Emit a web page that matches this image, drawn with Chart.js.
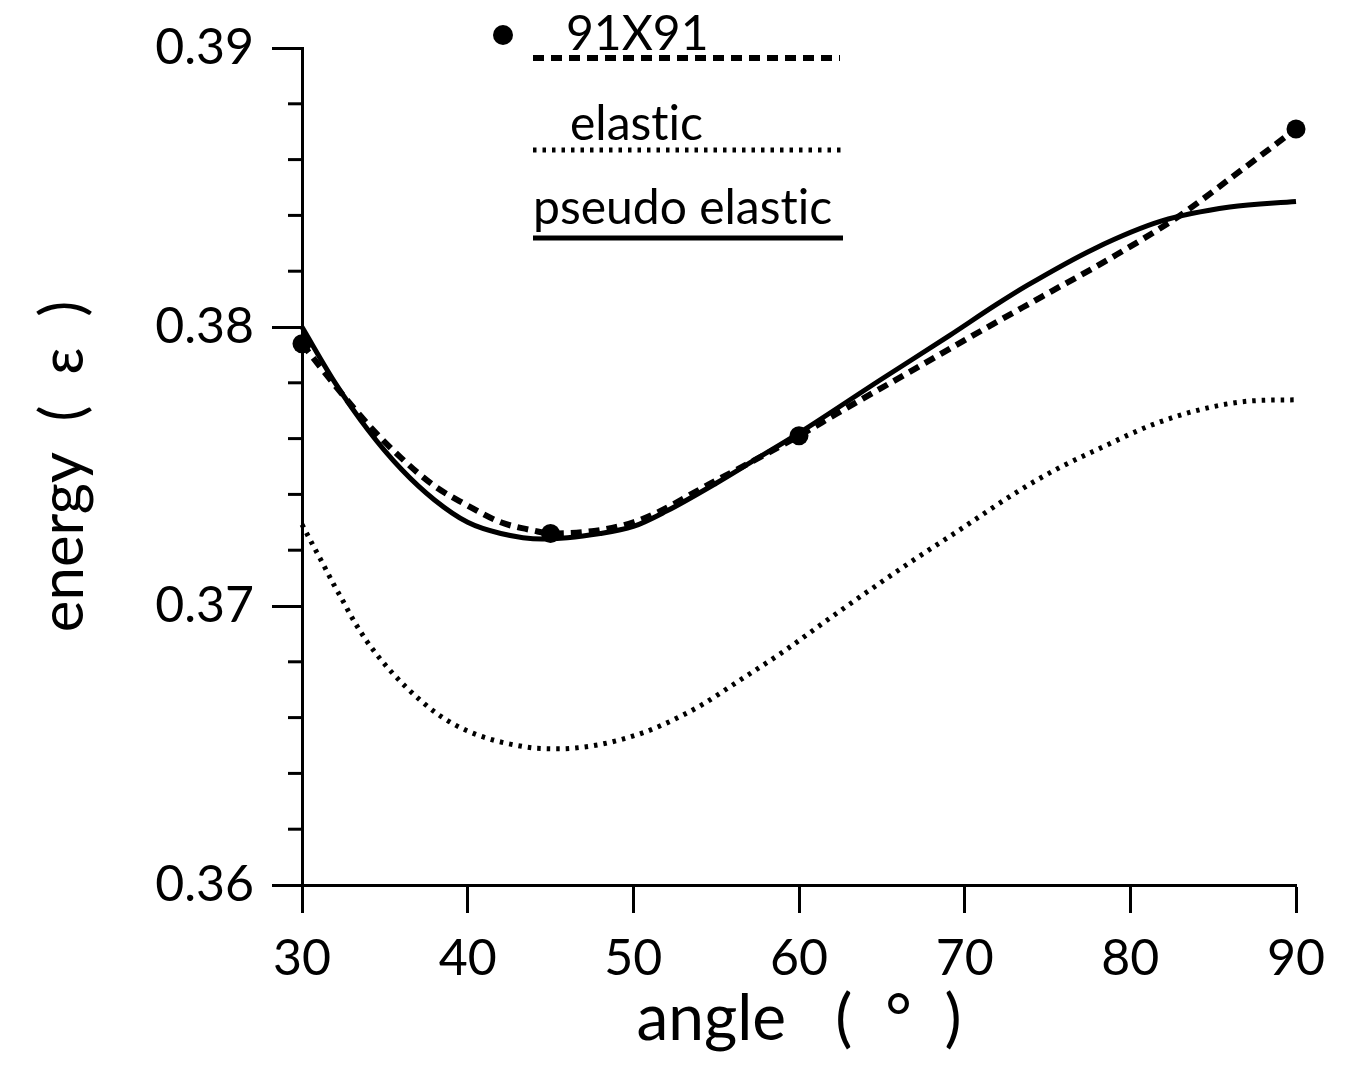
<!DOCTYPE html>
<html>
<head>
<meta charset="utf-8">
<title>energy vs angle</title>
<script src="https://cdn.jsdelivr.net/npm/chart.js@4/dist/chart.umd.min.js"></script>
<style>
  html, body { margin: 0; padding: 0; background: #fff; }
  canvas { display: block; }
</style>
</head>
<body>
<canvas id="chart" width="1351" height="1068" style="width:1351px;height:1068px"></canvas>
<script>
// 91X91 grid results (filled dots)
const angles91 = [30, 45, 60, 90];
const energy91 = [0.3794, 0.3726, 0.3761, 0.3871];

// dashed curve drawn through the 91X91 results
const angles91Curve = [30, 32, 34, 36, 38, 40, 42, 44, 45, 50, 55, 60, 62.3, 67, 71.1, 74.7, 78.9, 83, 86.2, 90];
const energy91Curve = [0.3794, 0.3779, 0.3765, 0.3753, 0.3743, 0.3736, 0.3730, 0.3727, 0.3726, 0.3730, 0.3745, 0.3761, 0.3769, 0.3785, 0.3799, 0.3811, 0.3825, 0.3840, 0.3854, 0.3871];

// elastic model (dotted curve)
const anglesElastic = [30, 30.5, 31.3, 31.9, 32.5, 33.05, 33.9, 34.7, 35.5, 36.3, 37.2, 38.2, 39.3, 40.5, 41.7, 43.0, 44.2, 45.6, 46.8, 48.1, 49.3, 50.6, 51.8, 53.0, 54.2, 56.3, 58.9, 61.6, 64.1, 66.8, 69.6, 73.3, 75.5, 78.4, 81.3, 84.3, 87.3, 90];
const energyElastic = [0.37292, 0.37236, 0.37147, 0.37079, 0.37015, 0.36955, 0.36875, 0.36812, 0.36757, 0.36708, 0.36659, 0.36612, 0.36572, 0.36540, 0.36517, 0.36500, 0.36490, 0.36488, 0.36493, 0.36505, 0.36522, 0.36546, 0.36575, 0.36609, 0.36648, 0.36729, 0.36830, 0.36945, 0.37050, 0.37160, 0.37269, 0.37414, 0.37489, 0.37572, 0.37649, 0.37705, 0.37735, 0.37739];

// pseudo elastic model (solid curve)
const anglesPseudo = [30, 32, 34, 36, 38, 40, 42, 44.5, 48, 50, 52, 55, 57.5, 60, 64.9, 69.1, 71.9, 73.8, 77.8, 81.9, 86.0, 90];
const energyPseudo = [0.3800, 0.3780, 0.3763, 0.3749, 0.3738, 0.3730, 0.3726, 0.3724, 0.3726, 0.37285, 0.3734, 0.3744, 0.3753, 0.3762, 0.3781, 0.3797, 0.3808, 0.3815, 0.3828, 0.3838, 0.3843, 0.3845];

// axis ticks
const xTicks = [30, 40, 50, 60, 70, 80, 90];
const yTicks = [0.36, 0.37, 0.38, 0.39];
const yMinorTicks = [0.362, 0.364, 0.366, 0.368, 0.372, 0.374, 0.376, 0.378, 0.382, 0.384, 0.386, 0.388];

// legend entries (a zero-width non-joiner keeps "t" and "i" as separate glyphs)
const legendLabels = ['91X91', 'elast\u200Cic', 'pseudo elast\u200Cic'];

const FONT = 'Lato, "DejaVu Sans", sans-serif';
const INK = '#000';

const DASH_91 = [11, 7];
const DASH_ELASTIC = [3.5, 6];

function pairs(xs, ys) {
  return xs.map((x, i) => ({ x: x, y: ys[i] }));
}

// short minor ticks on the energy axis
const minorTickPlugin = {
  id: 'minorTicks',
  afterDraw(chart) {
    const s = chart.scales.y;
    const ctx = chart.ctx;
    ctx.save();
    ctx.strokeStyle = INK;
    ctx.lineWidth = 3;
    yMinorTicks.forEach(v => {
      const py = s.getPixelForValue(v);
      ctx.beginPath();
      ctx.moveTo(s.right, py);
      ctx.lineTo(s.right - 14, py);
      ctx.stroke();
    });
    ctx.restore();
  }
};

// key drawn above the curves: label text with its line sample underneath
const keyPlugin = {
  id: 'curveKey',
  afterDraw(chart) {
    const ctx = chart.ctx;
    ctx.save();
    ctx.fillStyle = INK;
    ctx.strokeStyle = INK;
    ctx.font = '48px ' + FONT;
    ctx.textBaseline = 'alphabetic';
    ctx.textAlign = 'left';

    // 91X91
    ctx.beginPath();
    ctx.arc(503, 35, 10, 0, Math.PI * 2);
    ctx.fill();
    ctx.fillText(legendLabels[0], 566, 50);
    ctx.lineWidth = 6;
    ctx.setLineDash(DASH_91);
    ctx.beginPath();
    ctx.moveTo(533, 58);
    ctx.lineTo(840, 58);
    ctx.stroke();

    // elastic
    ctx.fillText(legendLabels[1], 570, 140);
    ctx.lineWidth = 5;
    ctx.setLineDash(DASH_ELASTIC);
    ctx.beginPath();
    ctx.moveTo(533, 150);
    ctx.lineTo(842, 150);
    ctx.stroke();

    // pseudo elastic
    ctx.setLineDash([]);
    ctx.fillText(legendLabels[2], 533, 224);
    ctx.lineWidth = 5;
    ctx.beginPath();
    ctx.moveTo(533, 238);
    ctx.lineTo(843, 238);
    ctx.stroke();
    ctx.restore();
  }
};

const whiteBg = {
  id: 'whiteBg',
  beforeDraw(chart) {
    const ctx = chart.ctx;
    ctx.save();
    ctx.fillStyle = '#fff';
    ctx.fillRect(0, 0, chart.width, chart.height);
    ctx.restore();
  }
};

Chart.defaults.color = INK;
Chart.defaults.font.family = FONT;

new Chart(document.getElementById('chart'), {
  type: 'line',
  data: {
    datasets: [
      {
        label: 'elastic',
        data: pairs(anglesElastic, energyElastic),
        borderColor: INK,
        borderWidth: 5,
        borderDash: DASH_ELASTIC,
        cubicInterpolationMode: 'monotone',
        pointRadius: 0,
        fill: false,
        clip: false
      },
      {
        label: 'pseudo elastic',
        data: pairs(anglesPseudo, energyPseudo),
        borderColor: INK,
        borderWidth: 5,
        cubicInterpolationMode: 'monotone',
        pointRadius: 0,
        fill: false,
        clip: false
      },
      {
        label: '91X91 curve',
        data: pairs(angles91Curve, energy91Curve),
        borderColor: INK,
        borderWidth: 6,
        borderDash: DASH_91,
        cubicInterpolationMode: 'monotone',
        pointRadius: 0,
        fill: false,
        clip: false
      },
      {
        label: '91X91',
        data: pairs(angles91, energy91),
        showLine: false,
        pointRadius: 9.5,
        pointBackgroundColor: INK,
        pointBorderWidth: 0,
        clip: false
      }
    ]
  },
  options: {
    responsive: false,
    animation: false,
    devicePixelRatio: 1,
    layout: { padding: { left: 0, right: 55, top: 33, bottom: 0 } },
    plugins: {
      legend: { display: false },
      tooltip: { enabled: false }
    },
    scales: {
      x: {
        type: 'linear',
        min: 30,
        max: 90,
        afterBuildTicks(s) { s.ticks = xTicks.map(v => ({ value: v })); },
        afterFit(s) { s.height = 183; },
        ticks: {
          font: { size: 50, family: FONT },
          color: INK,
          padding: 16,
          maxRotation: 0,
          callback: v => String(v)
        },
        grid: {
          display: true,
          drawOnChartArea: false,
          drawTicks: true,
          tickLength: 28,
          tickWidth: 3,
          tickColor: INK
        },
        border: { display: true, color: INK, width: 3 },
        title: {
          display: true,
          text: 'angle   (  °  )',
          font: { size: 64, family: FONT },
          color: INK,
          padding: { top: 0, bottom: 10 }
        }
      },
      y: {
        type: 'linear',
        min: 0.36,
        max: 0.39,
        afterBuildTicks(s) { s.ticks = yTicks.map(v => ({ value: v })); },
        afterFit(s) { s.width = 302; },
        ticks: {
          font: { size: 50, family: FONT },
          color: INK,
          padding: 18,
          callback: v => Number(v).toFixed(2)
        },
        grid: {
          display: true,
          drawOnChartArea: false,
          drawTicks: true,
          tickLength: 30,
          tickWidth: 3,
          tickColor: INK
        },
        border: { display: true, color: INK, width: 3 },
        title: {
          display: true,
          text: 'energy  (  ε  )',
          font: { size: 60, family: FONT },
          color: INK,
          padding: { top: 28, bottom: 0 }
        }
      }
    }
  },
  plugins: [whiteBg, minorTickPlugin, keyPlugin]
});
</script>
</body>
</html>
